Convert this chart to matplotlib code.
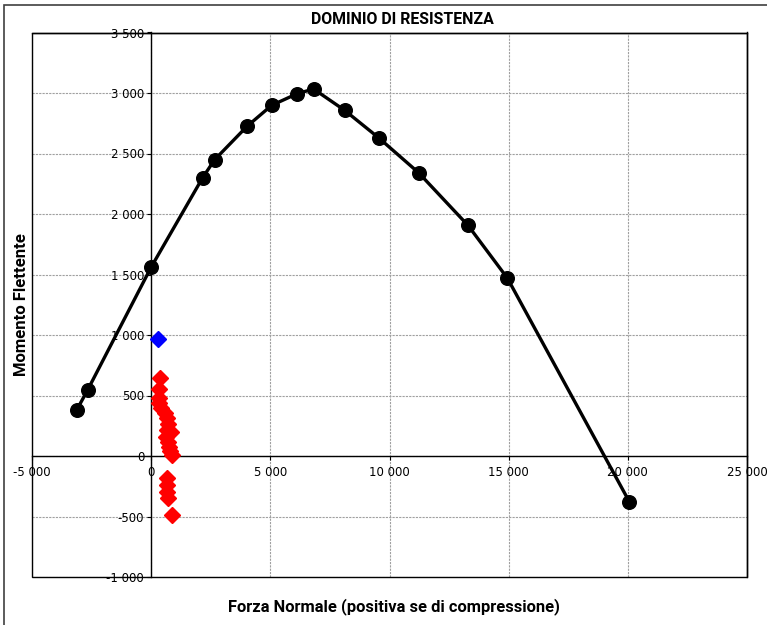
import matplotlib
matplotlib.use("Agg")
import matplotlib.pyplot as plt
from matplotlib.ticker import FuncFormatter, MultipleLocator
from matplotlib.patches import Rectangle

# Interaction domain (N, M) points
dom_n = [-3125, -2664, 0, 2160, 2664, 4019, 5055, 6133, 6816, 8117, 9556, 11221, 13297, 14946, 20063]
dom_m = [380, 546, 1561, 2300, 2449, 2724, 2898, 2995, 3033, 2857, 2628, 2341, 1905, 1470, -378]

# Design load combination (blue)
blue_n = [285]
blue_m = [965]

# Load combinations checked (red)
red_n = [369, 344, 315, 344, 428, 566, 650, 705, 680, 847, 638, 705, 734, 789, 873,
         650, 650, 680, 705, 873]
red_m = [643, 554, 477, 436, 395, 353, 312, 262, 215, 201, 160, 118, 77, 41, 8,
         -185, -240, -295, -350, -488]

x_range = (-5000, 25000)
y_range = (-1000, 3500)

label_font = ["Roboto", "DejaVu Sans"]

fig = plt.figure(figsize=(7.67, 6.25), dpi=100)
ax = fig.add_axes([32 / 767, 1 - 577 / 625, (747 - 32) / 767, (577 - 32.5) / 625])

ax.set_xlim(*x_range)
ax.set_ylim(*y_range)
ax.xaxis.set_major_locator(MultipleLocator(5000))
ax.yaxis.set_major_locator(MultipleLocator(500))

fmt = FuncFormatter(lambda v, p: f"{v:,.0f}".replace(",", " "))
ax.xaxis.set_major_formatter(fmt)
ax.yaxis.set_major_formatter(fmt)

ax.grid(True, color="#a0a0a0", linestyle=(0, (2, 1)), linewidth=0.8)
ax.set_axisbelow(True)

# axes crossing at the origin
ax.spines["left"].set_position(("data", 0))
ax.spines["bottom"].set_position(("data", 0))
for s in ("left", "bottom", "top", "right"):
    ax.spines[s].set_color("black")
    ax.spines[s].set_linewidth(1.0)
ax.spines["left"].set_zorder(1.5)
ax.spines["bottom"].set_zorder(1.5)
ax.add_patch(Rectangle((0, 0), 1, 1, transform=ax.transAxes, fill=False,
                       edgecolor="black", linewidth=1.0, clip_on=False, zorder=1.5))

ax.tick_params(axis="both", direction="out", length=3, width=0.8,
               labelsize=8.5, pad=2, colors="black")
ax.tick_params(axis="x", pad=4)

ax.plot(dom_n, dom_m, color="black", linewidth=2.4, marker="o",
        markersize=9.8, markerfacecolor="black", markeredgecolor="black",
        zorder=3, clip_on=False)
ax.plot(red_n, red_m, linestyle="none", marker="D", markersize=8,
        markerfacecolor="#ff0000", markeredgecolor="#ff0000", zorder=4)
ax.plot(blue_n, blue_m, linestyle="none", marker="D", markersize=8,
        markerfacecolor="#0000ff", markeredgecolor="#0000ff", zorder=4)

fig.text(402 / 767, 1 - 20 / 625, "DOMINIO DI RESISTENZA", ha="center", va="center",
         fontsize=11.4, fontweight="bold", family=label_font)
fig.text(394 / 767, 1 - 607 / 625, "Forza Normale (positiva se di compressione)",
         ha="center", va="center", fontsize=11.9, fontweight="bold", family=label_font)
fig.text(22 / 767, 1 - 305 / 625, "Momento Flettente", ha="center", va="center",
         rotation=90, fontsize=12, fontweight="bold", family=label_font)

# outer chart frame
fig.add_artist(Rectangle((4 / 767, -0.2), 1.5, 1.2 - 5 / 625, transform=fig.transFigure,
                         fill=False, edgecolor="#404040", linewidth=1.2))

fig.savefig("out.png", dpi=100, facecolor="white")
